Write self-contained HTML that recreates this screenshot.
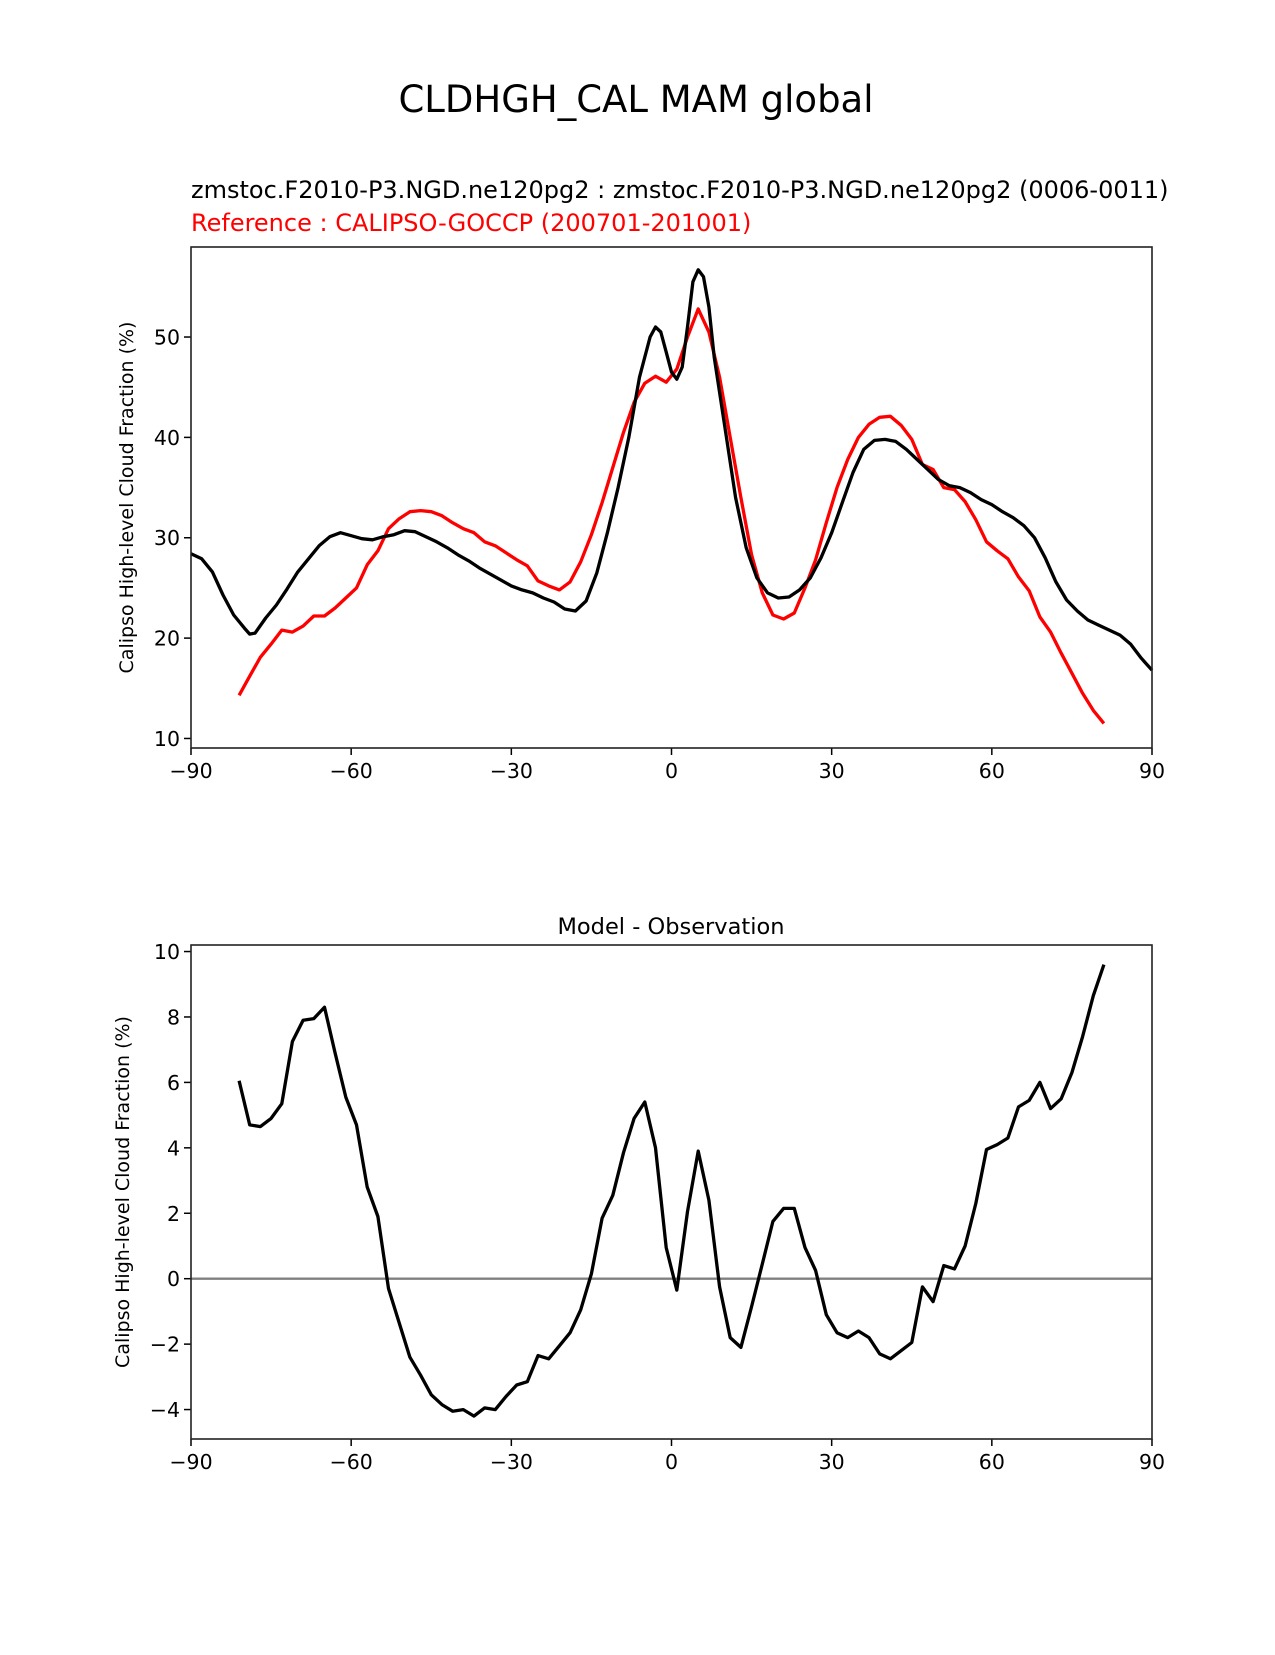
<!DOCTYPE html>
<html><head><meta charset="utf-8"><style>
body{margin:0;background:#fff}
text{font-family:"DejaVu Sans","Liberation Sans",sans-serif}
</style></head><body>
<svg id="c" width="1275" height="1650" xmlns="http://www.w3.org/2000/svg">
<rect width="1275" height="1650" fill="#fff"/>
<text x="636" y="112" font-size="37" text-anchor="middle">CLDHGH_CAL MAM global</text>
<text x="191" y="198" font-size="24">zmstoc.F2010-P3.NGD.ne120pg2 : zmstoc.F2010-P3.NGD.ne120pg2 (0006-0011)</text>
<text x="191" y="231" font-size="24" fill="#ff0000">Reference : CALIPSO-GOCCP (200701-201001)</text>
<text x="671" y="934" font-size="22.5" text-anchor="middle">Model - Observation</text>
<g id="top"></g>
<g id="bot"></g>
</svg>
<script>
const refLats=[];for(let l=-81;l<=81;l+=2)refLats.push(l);
const refVals=[14.3,16.2,18.1,19.4,20.8,20.6,21.2,22.2,22.2,23.0,24.0,25.0,27.3,28.7,30.9,31.9,32.6,32.7,32.6,32.2,31.5,30.9,30.5,29.6,29.2,28.5,27.8,27.2,25.7,25.2,24.8,25.6,27.6,30.3,33.5,37.0,40.5,43.5,45.4,46.1,45.5,46.8,50.0,52.8,50.5,46.0,40.0,34.0,28.3,24.5,22.3,21.9,22.5,25.0,27.8,31.5,35.0,37.8,40.0,41.3,42.0,42.1,41.2,39.8,37.3,36.8,35.0,34.8,33.6,31.8,29.6,28.7,27.9,26.1,24.7,22.1,20.6,18.5,16.5,14.5,12.8,11.5];
const modelLats=[-90,-88,-86,-84,-82,-80,-79,-78,-76,-74,-72,-70,-68,-66,-64,-62,-60,-58,-56,-54,-52,-50,-48,-46,-44,-42,-40,-38,-36,-34,-32,-30,-28,-26,-24,-22,-20,-18,-16,-14,-12,-10,-8,-6,-4,-3,-2,-1,0,1,2,3,4,5,6,7,8,10,12,14,16,18,20,22,24,26,28,30,32,34,36,38,40,42,44,46,48,50,52,54,56,58,60,62,64,66,68,70,72,74,76,78,80,82,84,86,88,90];
const modelVals=[28.4,27.9,26.6,24.3,22.3,21.0,20.4,20.5,22.0,23.3,24.9,26.6,27.9,29.2,30.1,30.5,30.2,29.9,29.8,30.1,30.3,30.7,30.6,30.1,29.6,29.0,28.3,27.7,27.0,26.4,25.8,25.2,24.8,24.5,24.0,23.6,22.9,22.7,23.7,26.5,30.5,35.0,40.0,46.0,50.0,51.0,50.5,48.5,46.5,45.8,47.0,51.0,55.5,56.7,56.0,53.0,48.0,41.0,34.0,29.0,26.0,24.5,24.0,24.1,24.8,26.0,28.0,30.5,33.5,36.5,38.8,39.7,39.8,39.6,38.8,37.8,36.8,35.8,35.2,35.0,34.5,33.8,33.3,32.6,32.0,31.2,30.0,28.0,25.6,23.8,22.7,21.8,21.3,20.8,20.3,19.4,18.0,16.8];
const diffVals=[6.05,4.7,4.65,4.9,5.35,7.25,7.9,7.95,8.3,6.9,5.55,4.7,2.8,1.9,-0.3,-1.35,-2.4,-2.95,-3.55,-3.85,-4.05,-4.0,-4.2,-3.95,-4.0,-3.6,-3.25,-3.15,-2.35,-2.45,-2.05,-1.65,-0.95,0.15,1.85,2.55,3.85,4.9,5.4,4.0,0.95,-0.35,2.05,3.9,2.4,-0.25,-1.8,-2.1,-0.85,0.45,1.75,2.15,2.15,0.95,0.25,-1.1,-1.65,-1.8,-1.6,-1.8,-2.3,-2.45,-2.2,-1.95,-0.25,-0.7,0.4,0.3,1.0,2.3,3.95,4.1,4.3,5.25,5.45,6.0,5.2,5.5,6.3,7.4,8.65,9.6];
const xTicks=[-90,-60,-30,0,30,60,90];
const xTickLabels=["\u221290","\u221260","\u221230","0","30","60","90"];
const topTicks=[10,20,30,40,50];
const botTicks=[-4,-2,0,2,4,6,8,10];
const NS="http://www.w3.org/2000/svg";
function mk(p,t,a){const e=document.createElementNS(NS,t);for(const k in a)e.setAttribute(k,a[k]);p.appendChild(e);return e;}
function chart(g,top,bot,ymin,ymax,yTicks,ylab,ylabX){
  const L=191,R=1152;
  const sx=v=>L+(v+90)/180*(R-L);
  const sy=v=>bot-(v-ymin)/(ymax-ymin)*(bot-top);
  const xt=mk(g,'g',{});
  
  
  xTicks.forEach((t,i)=>{mk(xt,'line',{x1:sx(t),x2:sx(t),y1:bot,y2:bot+7,stroke:'#000','stroke-width':1.5});
    const tx=mk(xt,'text',{x:sx(t),y:bot+30,'font-size':20.5,'text-anchor':'middle'});tx.textContent=xTickLabels[i];
    
    });
  const yt=mk(g,'g',{});
  
  
  yTicks.forEach(t=>{mk(yt,'line',{x1:L-7,x2:L,y1:sy(t),y2:sy(t),stroke:'#000','stroke-width':1.5});
    const tx=mk(yt,'text',{x:L-11,y:sy(t)+7.5,'font-size':20.5,'text-anchor':'end'});tx.textContent=t<0?'\u2212'+(-t):t;
    
    });
  const yl=mk(g,'text',{x:ylabX,y:(top+bot)/2,'font-size':19,'text-anchor':'middle',transform:`rotate(-90 ${ylabX} ${(top+bot)/2})`});
  yl.textContent=ylab;
  
  
  return {sx,sy,L,R,top,bot};
}
function line(g,a,xs,ys,color,name,w){
  const d=xs.map((x,i)=>(i?'L':'M')+a.sx(x).toFixed(1)+' '+a.sy(ys[i]).toFixed(1)).join(' ');
  const p=mk(g,'path',{d,fill:'none',stroke:color,'stroke-width':w||3.3,'stroke-linejoin':'round'});
  
  
}
function frame(g,a){const r=mk(g,'rect',{x:a.L,y:a.top,width:a.R-a.L,height:a.bot-a.top,fill:'none',stroke:'#222','stroke-width':1.6});
  
  }
const gt=document.getElementById('top');
const A=chart(gt,247,748,9.05,58.97,topTicks,'Calipso High-level Cloud Fraction (%)',133);
line(gt,A,refLats,refVals,'#ff0000','reference-line');
line(gt,A,modelLats,modelVals,'#000','model-line');
frame(gt,A);
const gb=document.getElementById('bot');
const B=chart(gb,945,1439,-4.9,10.2,botTicks,'Calipso High-level Cloud Fraction (%)',129);
const z=mk(gb,'line',{x1:B.L,x2:B.R,y1:B.sy(0),y2:B.sy(0),stroke:'#808080','stroke-width':2.3});


line(gb,B,refLats,diffVals,'#000','difference-line');
frame(gb,B);
</script>
</body></html>
